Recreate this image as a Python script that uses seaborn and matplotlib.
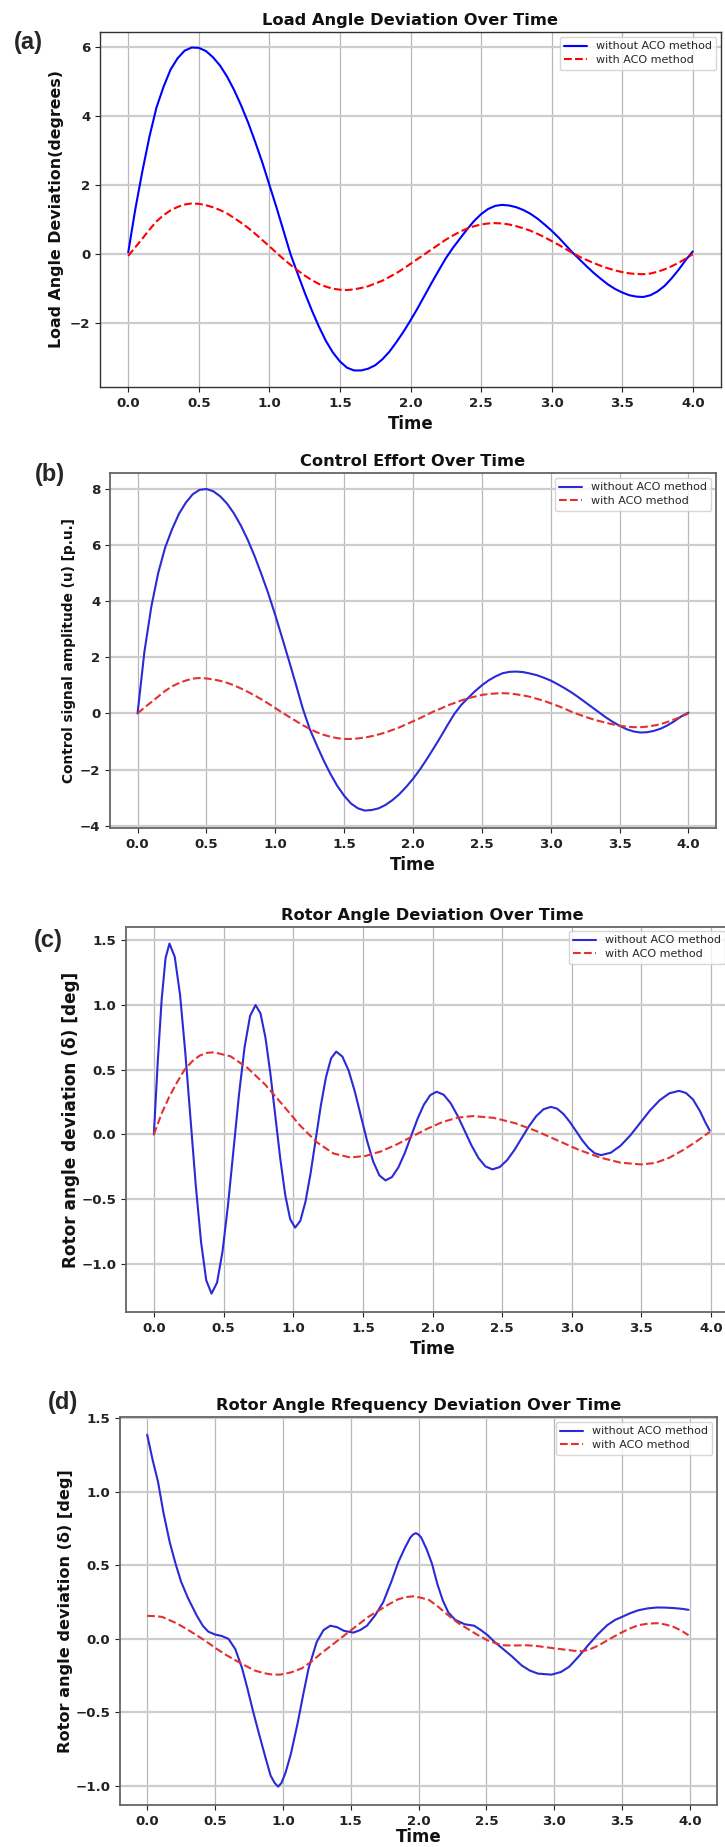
import numpy as np
import pandas as pd
import matplotlib
matplotlib.use("Agg")
import matplotlib.pyplot as plt
import seaborn as sns

sns.set_style("ticks")
plt.rcParams["font.family"] = ["DejaVu Sans"]
plt.rcParams["font.weight"] = "bold"

LAB_WO = "without ACO method"
LAB_W = "with ACO method"

# ---------------- data ----------------
t05 = [round(0.05 * i, 2) for i in range(81)]   # 0.00 ... 4.00

# (a) Load angle deviation
a_blue_t = t05
a_blue_v = [0.05, 1.3, 2.4, 3.4, 4.25, 4.85, 5.35, 5.68, 5.9, 5.99, 5.98, 5.89, 5.71, 5.47, 5.15, 4.76,
            4.31, 3.81, 3.25, 2.66, 2.01, 1.36, 0.68, 0.0, -0.56, -1.11, -1.62, -2.09, -2.51, -2.85,
            -3.11, -3.29, -3.37, -3.37, -3.32, -3.22, -3.05, -2.83, -2.55, -2.25, -1.92, -1.57, -1.2,
            -0.83, -0.47, -0.12, 0.18, 0.45, 0.715, 0.96, 1.16, 1.31, 1.40, 1.43, 1.41, 1.36, 1.28, 1.17,
            1.03, 0.86, 0.68, 0.48, 0.26, 0.04, -0.16, -0.36, -0.55, -0.72, -0.88, -1.01, -1.11, -1.19,
            -1.23, -1.24, -1.19, -1.08, -0.92, -0.70, -0.45, -0.17, 0.08]
a_red_t = t05
a_red_v = [-0.05, 0.2, 0.45, 0.71, 0.95, 1.13, 1.27, 1.37, 1.44, 1.47, 1.46, 1.42, 1.36, 1.28, 1.18, 1.05,
           0.91, 0.76, 0.59, 0.41, 0.23, 0.04, -0.14, -0.31, -0.47, -0.62, -0.75, -0.86, -0.94, -1.0,
           -1.03, -1.04, -1.02, -0.98, -0.93, -0.85, -0.77, -0.66, -0.55, -0.42, -0.28, -0.14, 0.0, 0.14,
           0.28, 0.42, 0.54, 0.65, 0.74, 0.81, 0.86, 0.89, 0.9, 0.89, 0.86, 0.81, 0.75, 0.68, 0.59, 0.49,
           0.38, 0.27, 0.15, 0.03, -0.08, -0.17, -0.26, -0.34, -0.41, -0.47, -0.52, -0.555, -0.575, -0.58,
           -0.56, -0.51, -0.44, -0.35, -0.25, -0.13, 0.0]

# (b) Control effort
b_blue_t = t05
b_blue_v = [0.0, 2.2, 3.8, 5.0, 5.9, 6.55, 7.1, 7.5, 7.8, 7.96, 7.99, 7.91, 7.73, 7.47, 7.12, 6.69, 6.18,
            5.6, 4.95, 4.26, 3.5, 2.69, 1.87, 1.03, 0.17, -0.55, -1.12, -1.66, -2.15, -2.58, -2.93, -3.21,
            -3.38, -3.46, -3.44, -3.38, -3.26, -3.09, -2.88, -2.62, -2.33, -2.0, -1.63, -1.24, -0.84,
            -0.42, -0.02, 0.3, 0.55, 0.79, 1.0, 1.18, 1.32, 1.43, 1.48, 1.49, 1.47, 1.42, 1.36, 1.27, 1.17,
            1.04, 0.9, 0.75, 0.58, 0.4, 0.22, 0.04, -0.14, -0.3, -0.44, -0.56, -0.64, -0.68, -0.67, -0.62,
            -0.54, -0.42, -0.27, -0.1, 0.03]
b_red_t = t05
b_red_v = [0.0, 0.21, 0.4, 0.6, 0.8, 0.96, 1.08, 1.17, 1.24, 1.26, 1.245, 1.21, 1.16, 1.09, 1.0, 0.89, 0.77,
           0.64, 0.5, 0.35, 0.19, 0.03, -0.12, -0.27, -0.42, -0.55, -0.67, -0.76, -0.83, -0.88, -0.91,
           -0.91, -0.89, -0.86, -0.81, -0.75, -0.68, -0.59, -0.5, -0.39, -0.28, -0.17, -0.05, 0.07, 0.17,
           0.28, 0.37, 0.46, 0.54, 0.6, 0.66, 0.69, 0.71, 0.72, 0.71, 0.68, 0.64, 0.59, 0.52, 0.45, 0.36,
           0.27, 0.17, 0.06, -0.03, -0.12, -0.2, -0.27, -0.33, -0.39, -0.44, -0.47, -0.49, -0.49, -0.47,
           -0.43, -0.38, -0.3, -0.21, -0.11, 0.0]

# (c) Rotor angle deviation
c_blue_t = [0.0, 0.028, 0.056, 0.084, 0.112, 0.150, 0.188, 0.225, 0.263, 0.301, 0.339, 0.376, 0.414,
            0.4535, 0.493, 0.5325, 0.572, 0.6115, 0.651, 0.6905, 0.730, 0.7655, 0.801, 0.8365, 0.872,
            0.9075, 0.943, 0.9785, 1.014, 1.051, 1.088, 1.125, 1.1615, 1.198, 1.235, 1.272, 1.309, 1.353,
            1.398, 1.442, 1.486, 1.530, 1.574, 1.619, 1.663, 1.709, 1.755, 1.801, 1.8465, 1.892, 1.938,
            1.984, 2.03, 2.08, 2.13, 2.18, 2.23, 2.28, 2.33, 2.38, 2.43, 2.4825, 2.535, 2.5875, 2.64,
            2.6925, 2.745, 2.7975, 2.85, 2.895, 2.94, 2.985, 3.03, 3.075, 3.12, 3.165, 3.21, 3.28, 3.35,
            3.42, 3.49, 3.56, 3.63, 3.70, 3.77, 3.82, 3.87, 3.92, 3.96, 3.99]
c_blue_v = [0.0, 0.565, 1.043, 1.363, 1.475, 1.372, 1.079, 0.640, 0.1225, -0.396, -0.834, -1.127, -1.23,
            -1.145, -0.903, -0.542, -0.115, 0.312, 0.673, 0.915, 1.0, 0.935, 0.748, 0.469, 0.14, -0.189,
            -0.468, -0.655, -0.72, -0.668, -0.521, -0.300, -0.04, 0.220, 0.441, 0.588, 0.64, 0.602, 0.494,
            0.333, 0.1425, -0.048, -0.209, -0.317, -0.355, -0.329, -0.255, -0.144, -0.0125, 0.119, 0.230,
            0.304, 0.33, 0.307, 0.242, 0.145, 0.03, -0.085, -0.182, -0.247, -0.27, -0.252, -0.199, -0.121,
            -0.0285, 0.064, 0.142, 0.195, 0.213, 0.199, 0.158, 0.098, 0.0265, -0.045, -0.105, -0.146,
            -0.16, -0.141, -0.087, -0.007, 0.0885, 0.184, 0.264, 0.318, 0.337, 0.32, 0.27, 0.18, 0.09, 0.03]
c_red_t = [0.0, 0.055, 0.11, 0.165, 0.22, 0.275, 0.33, 0.38, 0.43, 0.55, 0.67, 0.80, 0.925, 1.046, 1.168,
           1.289, 1.41, 1.52, 1.63, 1.74, 1.85, 1.96, 2.07, 2.18, 2.29, 2.441, 2.593, 2.744, 2.895, 3.046,
           3.198, 3.349, 3.5, 3.6, 3.7, 3.8, 3.9, 3.99]
c_red_v = [0.0, 0.16, 0.29, 0.40, 0.5, 0.565, 0.61, 0.63, 0.635, 0.604, 0.516, 0.384, 0.2285, 0.073,
           -0.059, -0.147, -0.178, -0.166, -0.131, -0.079, -0.018, 0.043, 0.095, 0.130, 0.142, 0.128,
           0.087, 0.027, -0.045, -0.117, -0.177, -0.218, -0.232, -0.22, -0.18, -0.12, -0.05, 0.02]

# (d) Rotor angle frequency deviation
d_blue_t = [0.0, 0.04, 0.08, 0.12, 0.166, 0.21, 0.25, 0.30, 0.365, 0.41, 0.45, 0.5, 0.55, 0.6, 0.65, 0.7,
            0.74, 0.78, 0.82, 0.87, 0.91, 0.94, 0.965, 0.99, 1.02, 1.06, 1.11, 1.15, 1.19, 1.25, 1.3, 1.35,
            1.4, 1.45, 1.52, 1.57, 1.62, 1.68, 1.74, 1.8, 1.85, 1.9, 1.94, 1.96, 1.98, 2.0, 2.02, 2.06, 2.1,
            2.14, 2.18, 2.22, 2.27, 2.34, 2.41, 2.46, 2.51, 2.56, 2.62, 2.69, 2.76, 2.82, 2.88, 2.98, 3.05,
            3.11, 3.18, 3.25, 3.32, 3.39, 3.45, 3.5, 3.56, 3.62, 3.69, 3.76, 3.82, 3.88, 3.94, 3.99]
d_blue_v = [1.39, 1.22, 1.07, 0.86, 0.66, 0.51, 0.39, 0.28, 0.16, 0.09, 0.05, 0.03, 0.02, 0.0, -0.07, -0.2,
            -0.34, -0.49, -0.63, -0.8, -0.93, -0.98, -1.005, -0.98, -0.91, -0.78, -0.57, -0.38, -0.2,
            -0.02, 0.06, 0.09, 0.08, 0.055, 0.043, 0.06, 0.09, 0.16, 0.25, 0.39, 0.52, 0.62, 0.69, 0.71,
            0.72, 0.71, 0.69, 0.61, 0.51, 0.37, 0.26, 0.18, 0.13, 0.1, 0.09, 0.06, 0.025, -0.02, -0.066,
            -0.12, -0.18, -0.215, -0.236, -0.243, -0.225, -0.19, -0.12, -0.043, 0.03, 0.093, 0.13, 0.15,
            0.175, 0.195, 0.208, 0.214, 0.213, 0.21, 0.205, 0.198]
d_red_t = [0.0, 0.06, 0.11, 0.16, 0.22, 0.29, 0.365, 0.44, 0.51, 0.58, 0.65, 0.72, 0.79, 0.86, 0.92, 0.98,
           1.06, 1.14, 1.21, 1.28, 1.35, 1.42, 1.49, 1.56, 1.63, 1.71, 1.78, 1.85, 1.91, 1.96, 2.02, 2.08,
           2.15, 2.22, 2.29, 2.36, 2.43, 2.51, 2.57, 2.62, 2.7, 2.79, 2.86, 2.93, 3.0, 3.08, 3.15, 3.21,
           3.27, 3.33, 3.4, 3.48, 3.55, 3.62, 3.69, 3.76, 3.82, 3.88, 3.94, 3.99]
d_red_v = [0.157, 0.155, 0.15, 0.13, 0.105, 0.068, 0.025, -0.02, -0.066, -0.108, -0.145, -0.18, -0.214,
           -0.233, -0.242, -0.243, -0.228, -0.2, -0.155, -0.1, -0.05, 0.0, 0.05, 0.1, 0.15, 0.195, 0.235,
           0.27, 0.285, 0.29, 0.28, 0.264, 0.215, 0.16, 0.11, 0.07, 0.03, -0.01, -0.03, -0.043, -0.045,
           -0.043, -0.047, -0.055, -0.064, -0.073, -0.081, -0.084, -0.068, -0.043, -0.005, 0.036, 0.068,
           0.093, 0.104, 0.107, 0.098, 0.082, 0.055, 0.025]

titles = ["Load Angle Deviation Over Time", "Control Effort Over Time",
          "Rotor Angle Deviation Over Time", "Rotor Angle Rfequency Deviation Over Time"]
ylabels = ["Load Angle Deviation(degrees)", "Control signal amplitude (u) [p.u.]",
           "Rotor angle deviation (\u03b4) [deg]", "Rotor angle deviation (\u03b4) [deg]"]
panel_tags = ["(a)", "(b)", "(c)", "(d)"]
xticks = [0.0, 0.5, 1.0, 1.5, 2.0, 2.5, 3.0, 3.5, 4.0]
yticks = [[-2, 0, 2, 4, 6], [-4, -2, 0, 2, 4, 6, 8],
          [-1.0, -0.5, 0.0, 0.5, 1.0, 1.5], [-1.0, -0.5, 0.0, 0.5, 1.0, 1.5]]

series = [(a_blue_t, a_blue_v, a_red_t, a_red_v), (b_blue_t, b_blue_v, b_red_t, b_red_v),
          (c_blue_t, c_blue_v, c_red_t, c_red_v), (d_blue_t, d_blue_v, d_red_t, d_red_v)]

# ---------------- layout (pixels in a 725 x 1847 canvas) ----------------
W, H = 725, 1847
boxes = [(100, 721, 32, 387), (110, 716, 473, 828), (126, 739, 927, 1312), (120, 717, 1417, 1805)]
ylims = [(-3.85, 6.44), (-4.08, 8.56), (-1.372, 1.603), (-1.13, 1.51)]
ylabel_size = [11.4, 9.9, 12.2, 11.6]
ylabel_x = [57, 69.5, 71, 66]
xlabel_pad = [4, 4, 4, 0]
tag_pos = [(28, 42), (50, 475), (48.5, 941), (62.5, 1403)]
blue_cols = ["#0000ff", "#2a2ad6", "#2a2ad6", "#2a2ad6"]
red_cols = ["#ff0000", "#e53030", "#e53030", "#e53030"]
spine_cols = ["#333333", "#666666", "#666666", "#666666"]

fig = plt.figure(figsize=(W / 100, H / 100), dpi=100)

for i in range(4):
    l, r, t, b = boxes[i]
    ax = fig.add_axes([l / W, 1 - b / H, (r - l) / W, (b - t) / H])
    bt, bv, rt, rv = series[i]
    df = pd.concat([
        pd.DataFrame({"Time": bt, "Value": bv, "Series": LAB_WO}),
        pd.DataFrame({"Time": rt, "Value": rv, "Series": LAB_W}),
    ], ignore_index=True)
    sns.lineplot(data=df, x="Time", y="Value", hue="Series", style="Series",
                 palette={LAB_WO: blue_cols[i], LAB_W: red_cols[i]},
                 dashes={LAB_WO: "", LAB_W: (3.7, 1.6)},
                 estimator=None, sort=False, linewidth=1.5, ax=ax)
    ax.set_xlim(-0.2, 4.2)
    ax.set_ylim(*ylims[i])
    ax.set_xticks(xticks)
    ax.set_yticks(yticks[i])
    ax.xaxis.grid(True, color="#b8b8b8", linewidth=0.9)
    ax.yaxis.grid(True, color="#cdcdcd", linewidth=1.6)
    ax.set_axisbelow(True)
    for s in ax.spines.values():
        s.set_visible(True)
        s.set_color(spine_cols[i])
        s.set_linewidth(1.0 if i == 0 else 1.3)
    ax.tick_params(direction="out", length=3.5, width=0.8, labelsize=9.6,
                   colors="#222222")
    ax.set_title(titles[i], fontsize=11.7, fontweight="bold", pad=5, color="#111111")
    ax.set_xlabel("Time", fontsize=12, fontweight="bold", color="#111111", labelpad=xlabel_pad[i])
    ax.set_ylabel(ylabels[i], fontsize=ylabel_size[i], fontweight="bold", color="#111111")
    ax.yaxis.label.set_verticalalignment("center")
    ax.yaxis.set_label_coords((ylabel_x[i] - l) / (r - l), 0.5)
    h, lb = ax.get_legend_handles_labels()
    if i == 2:
        ax.legend(h, lb, loc="upper left", bbox_to_anchor=(569 / W, 1 - 931 / H),
                  bbox_transform=fig.transFigure, borderaxespad=0.0,
                  prop={"weight": "normal", "size": 8}, labelspacing=0.35, handlelength=2.0)
    else:
        ax.legend(h, lb, loc="upper right", prop={"weight": "normal", "size": 8},
                  labelspacing=0.35, borderaxespad=0.45, handlelength=2.0)
    fig.text(tag_pos[i][0] / W, 1 - tag_pos[i][1] / H, panel_tags[i],
             family=["Liberation Sans", "DejaVu Sans"], fontsize=17, fontweight="bold",
             ha="center", va="center")

fig.savefig("out.png", dpi=100)
